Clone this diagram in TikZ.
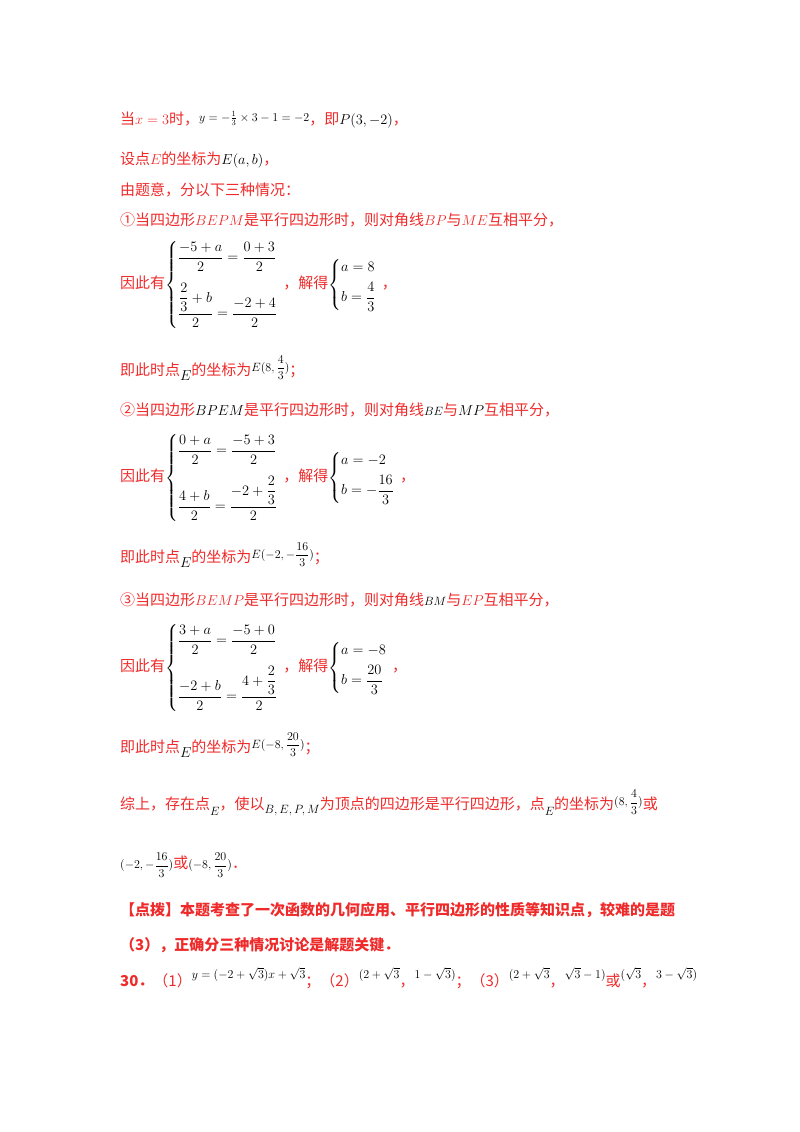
\documentclass[tikz,border=0pt]{standalone}
\usepackage{amsmath}
\usepackage{fontspec}
\setmainfont{Noto Sans CJK SC}
\definecolor{rd}{HTML}{EE2A2A}
\newcommand{\mk}[1]{\textcolor{black}{$#1$}}
\newcommand{\sm}[1]{{\fontsize{12}{14}\selectfont\color{black}$#1$}}
\begin{document}
\begin{tikzpicture}[x=1pt,y=1pt,
  ln/.style={anchor=west,inner sep=0pt,text=rd,font=\fontsize{15}{18}\selectfont}]
\useasboundingbox (0,0) rectangle (800,-1132);
\node[ln] (l1) at (120,-120) {当$x=3$时，\raisebox{3pt}{\sm{y=-\frac{1}{3}\times3-1=-2}}，即\mk{P(3,-2)}，};
\node[ln] (l2) at (120,-160) {设点$E$的坐标为\mk{E(a,b)}，};
\node[ln] (l3) at (120,-190) {由题意，分以下三种情况：};
\node[ln] (l4) at (120,-220) {①当四边形$BEPM$是平行四边形时，则对角线$BP$与$ME$互相平分，};
\node[ln] (s1) at (120,-285) {因此有\mk{\left\{\begin{array}{@{}l}\dfrac{-5+a}{2}=\dfrac{0+3}{2}\\[16pt] \dfrac{\dfrac{2}{3}+b}{2}=\dfrac{-2+4}{2}\end{array}\right.}，解得\mk{\left\{\begin{array}{@{}l}a=8\\[6pt] b=\dfrac{4}{3}\end{array}\right.}，};
\node[ln] (l5) at (120,-368) {即此时点\raisebox{-5pt}{\mk{E}}的坐标为\raisebox{4pt}{\sm{E(8,\dfrac{4}{3})}}；};
\node[ln] (l6) at (120,-410) {②当四边形\mk{BPEM}是平行四边形时，则对角线\sm{BE}与\mk{MP}互相平分，};
\node[ln] (s2) at (120,-478) {因此有\mk{\left\{\begin{array}{@{}l}\dfrac{0+a}{2}=\dfrac{-5+3}{2}\\[16pt] \dfrac{4+b}{2}=\dfrac{-2+\dfrac{2}{3}}{2}\end{array}\right.}，解得\mk{\left\{\begin{array}{@{}l}a=-2\\[6pt] b=-\dfrac{16}{3}\end{array}\right.}，};
\node[ln] (l7) at (120,-555) {即此时点\raisebox{-5pt}{\mk{E}}的坐标为\raisebox{4pt}{\sm{E(-2,-\dfrac{16}{3})}}；};
\node[ln] (l8) at (120,-600) {③当四边形$BEMP$是平行四边形时，则对角线\sm{BM}与$EP$互相平分，};
\node[ln] (s3) at (120,-668) {因此有\mk{\left\{\begin{array}{@{}l}\dfrac{3+a}{2}=\dfrac{-5+0}{2}\\[16pt] \dfrac{-2+b}{2}=\dfrac{4+\dfrac{2}{3}}{2}\end{array}\right.}，解得\mk{\left\{\begin{array}{@{}l}a=-8\\[6pt] b=\dfrac{20}{3}\end{array}\right.}，};
\node[ln] (l9) at (120,-745) {即此时点\raisebox{-5pt}{\mk{E}}的坐标为\raisebox{4pt}{\sm{E(-8,\dfrac{20}{3})}}；};
\node[ln] (l10) at (120,-803) {综上，存在点\raisebox{-6pt}{\sm{E}}，使以\raisebox{-4pt}{\sm{B,E,P,M}}为顶点的四边形是平行四边形，点\raisebox{-6pt}{\sm{E}}的坐标为\raisebox{4pt}{\sm{(8,\dfrac{4}{3})}}或};
\node[ln] (l11) at (120,-865) {\sm{(-2,-\dfrac{16}{3})}或\sm{(-8,\dfrac{20}{3})}．};
\node[ln,font=\fontsize{15}{18}\selectfont\bfseries] (l12) at (120,-910) {【点拨】本题考查了一次函数的几何应用、平行四边形的性质等知识点，较难的是题};
\node[ln,font=\fontsize{15}{18}\selectfont\bfseries] (l13) at (120,-945) {（3），正确分三种情况讨论是解题关键．};
\node[ln] (l14) at (120,-978) {\textbf{30．}（1）\raisebox{8pt}{\sm{y=(-2+\sqrt{3})x+\sqrt{3}}}；（2）\raisebox{8pt}{\sm{(2+\sqrt{3}}}，\raisebox{8pt}{\sm{1-\sqrt{3})}}；（3）\raisebox{8pt}{\sm{(2+\sqrt{3}}}，\raisebox{8pt}{\sm{\sqrt{3}-1)}}或\raisebox{8pt}{\sm{(\sqrt{3}}}，\raisebox{8pt}{\sm{3-\sqrt{3})}}};
\end{tikzpicture}
\end{document}
